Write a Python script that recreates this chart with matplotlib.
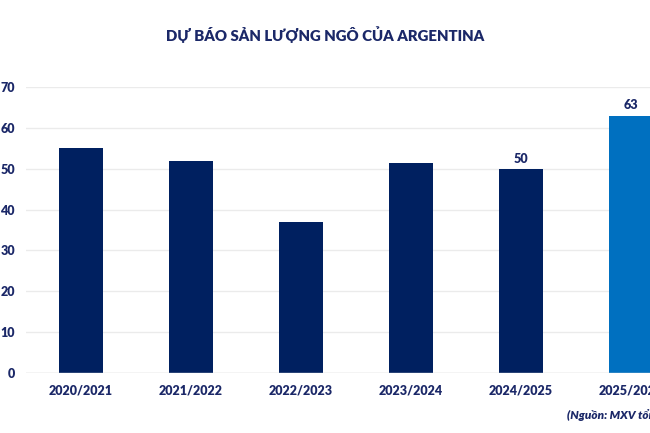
import matplotlib.pyplot as plt

# du lieu
mua_vu = ["2020/2021", "2021/2022", "2022/2023", "2023/2024", "2024/2025", "2025/2026"]
san_luong = [55, 52, 37, 51.5, 50, 63]
nhan_gia_tri = ["", "", "", "", "50", "63"]
yticks = [0, 10, 20, 30, 40, 50, 60, 70]

navy = "#002060"
xanh = "#0070C0"
chu = "#1B2868"

plt.rcParams["font.family"] = ["Lato", "DejaVu Sans"]

fig = plt.figure(figsize=(6.5, 4.33), dpi=100)
ax = fig.add_axes([26 / 650, 60 / 433, 660 / 650, 286 / 433])

mau = [navy] * 5 + [xanh]
x = range(len(mua_vu))
ax.bar(x, san_luong, width=0.4, color=mau, zorder=3)

for i, (v, nhan) in enumerate(zip(san_luong, nhan_gia_tri)):
    if nhan:
        ax.annotate(nhan, (i, v), xytext=(0, 3), textcoords="offset points",
                    ha="center", va="bottom", fontsize=9, fontweight="heavy", color=chu)

ax.set_xlim(-0.5, 5.5)
ax.set_ylim(0, 70)
ax.set_yticks(yticks)
ax.set_xticks(list(x))
ax.set_xticklabels(mua_vu)
ax.yaxis.grid(True, color="#EBEBEB", linewidth=1, zorder=0)
ax.axhline(0, color="#D9D9D9", linewidth=1, zorder=4)
for s in ax.spines.values():
    s.set_visible(False)
ax.tick_params(axis="both", length=0, labelsize=9, labelcolor=chu)
ax.tick_params(axis="y", pad=8)
ax.tick_params(axis="x", pad=8)
for t in ax.get_xticklabels() + ax.get_yticklabels():
    t.set_fontweight("heavy")

fig.text(325 / 650, 1 - 35 / 433, "DỰ BÁO SẢN LƯỢNG NGÔ CỦA ARGENTINA",
         ha="center", va="center", fontsize=10.8, fontweight="heavy", color=chu)
fig.text(567 / 650, 1 - 415 / 433, "(Nguồn: MXV tổng hợp)",
         ha="left", va="center", fontsize=8.5, fontweight="heavy", style="italic", color=chu)

fig.savefig("out.png", dpi=100)
